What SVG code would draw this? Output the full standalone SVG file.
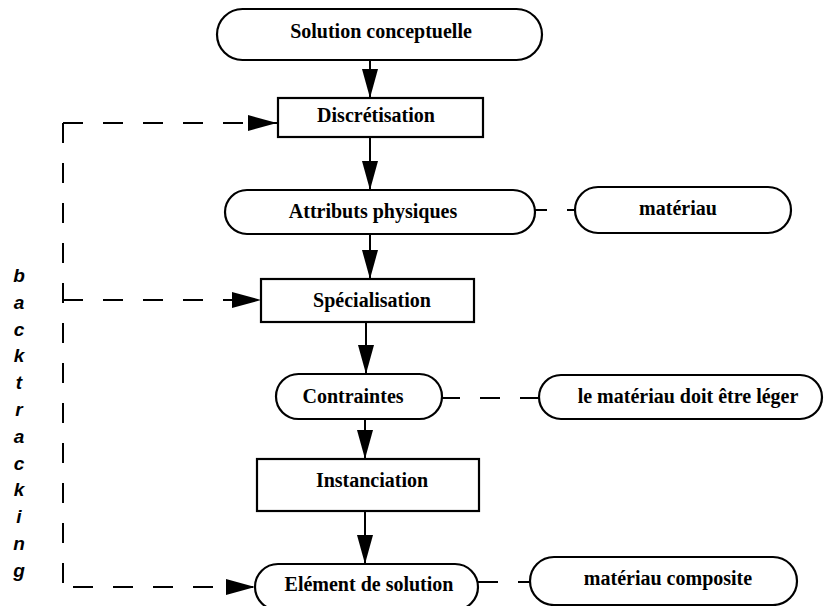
<svg xmlns="http://www.w3.org/2000/svg" width="824" height="606" viewBox="0 0 824 606">
<defs>
<style>
.n{fill:#fff;stroke:#000;stroke-width:2.2}
.t{font-family:"Liberation Serif","Times New Roman",serif;font-weight:bold;font-size:20px;fill:#000;text-anchor:middle}
.c{fill:none;stroke:#000;stroke-width:2}
.d{fill:none;stroke:#000;stroke-width:2;stroke-dasharray:20 20}
.bt{font-family:"Liberation Sans",Arial,sans-serif;font-weight:bold;font-style:italic;font-size:19px;fill:#000;text-anchor:middle}
</style>
<marker id="ah" markerUnits="userSpaceOnUse" markerWidth="30" markerHeight="16" refX="29" refY="8" orient="auto">
<path d="M0,0 L29,8 L0,16 Z" fill="#000"/>
</marker>
</defs>
<rect width="824" height="606" fill="#fff"/>
<g id="connectors">
<path class="c" d="M370,61 V98" marker-end="url(#ah)"/>
<path class="c" d="M370,137 V190" marker-end="url(#ah)"/>
<path class="c" d="M370,234 V279" marker-end="url(#ah)"/>
<path class="c" d="M366,322 V374" marker-end="url(#ah)"/>
<path class="c" d="M365,419 V459" marker-end="url(#ah)"/>
<path class="c" d="M365,511 V564" marker-end="url(#ah)"/>
<path class="d" d="M527,210 H575"/>
<path class="d" d="M440,398 H540"/>
<path class="d" d="M478,582 H530"/>
<path class="d" d="M63,123 V583"/>
<path class="d" d="M63,123 H277" marker-end="url(#ah)"/>
<path class="d" d="M63,300 H261" marker-end="url(#ah)"/>
<path class="d" d="M73,587 H255" marker-end="url(#ah)"/>
</g>
<g id="solution-conceptuelle">
<rect class="n" x="217" y="9" width="325" height="51" rx="25.5"/>
<text class="t" x="381" y="38">Solution conceptuelle</text>
</g>
<g id="discretisation">
<rect class="n" x="278" y="98" width="205" height="39"/>
<text class="t" x="376" y="122">Discrétisation</text>
</g>
<g id="attributs-physiques">
<rect class="n" x="225" y="190" width="310" height="44" rx="22"/>
<text class="t" x="373" y="218">Attributs physiques</text>
</g>
<g id="materiau">
<rect class="n" x="575" y="187" width="216" height="46" rx="23"/>
<text class="t" x="678" y="215">matériau</text>
</g>
<g id="specialisation">
<rect class="n" x="261" y="279" width="213" height="43"/>
<text class="t" x="372" y="307">Spécialisation</text>
</g>
<g id="contraintes">
<rect class="n" x="276" y="374" width="166" height="45" rx="22.5"/>
<text class="t" x="353" y="403">Contraintes</text>
</g>
<g id="materiau-leger">
<rect class="n" x="539" y="375" width="283" height="44" rx="22"/>
<text class="t" x="688" y="403">le matériau doit être léger</text>
</g>
<g id="instanciation">
<rect class="n" x="257" y="459" width="222" height="52"/>
<text class="t" x="372" y="487">Instanciation</text>
</g>
<g id="element-de-solution">
<rect class="n" x="255" y="564" width="223" height="46" rx="23"/>
<text class="t" x="369" y="591">Elément de solution</text>
</g>
<g id="materiau-composite">
<rect class="n" x="530" y="557" width="267" height="48" rx="24"/>
<text class="t" x="668" y="585">matériau composite</text>
</g>
<g id="backtracking-label">
<text class="bt" x="19" y="282">b</text>
<text class="bt" x="19" y="309">a</text>
<text class="bt" x="19" y="336">c</text>
<text class="bt" x="19" y="362">k</text>
<text class="bt" x="19" y="389">t</text>
<text class="bt" x="19" y="416">r</text>
<text class="bt" x="19" y="443">a</text>
<text class="bt" x="19" y="470">c</text>
<text class="bt" x="19" y="496">k</text>
<text class="bt" x="19" y="523">i</text>
<text class="bt" x="19" y="550">n</text>
<text class="bt" x="19" y="577">g</text>
</g>
</svg>
